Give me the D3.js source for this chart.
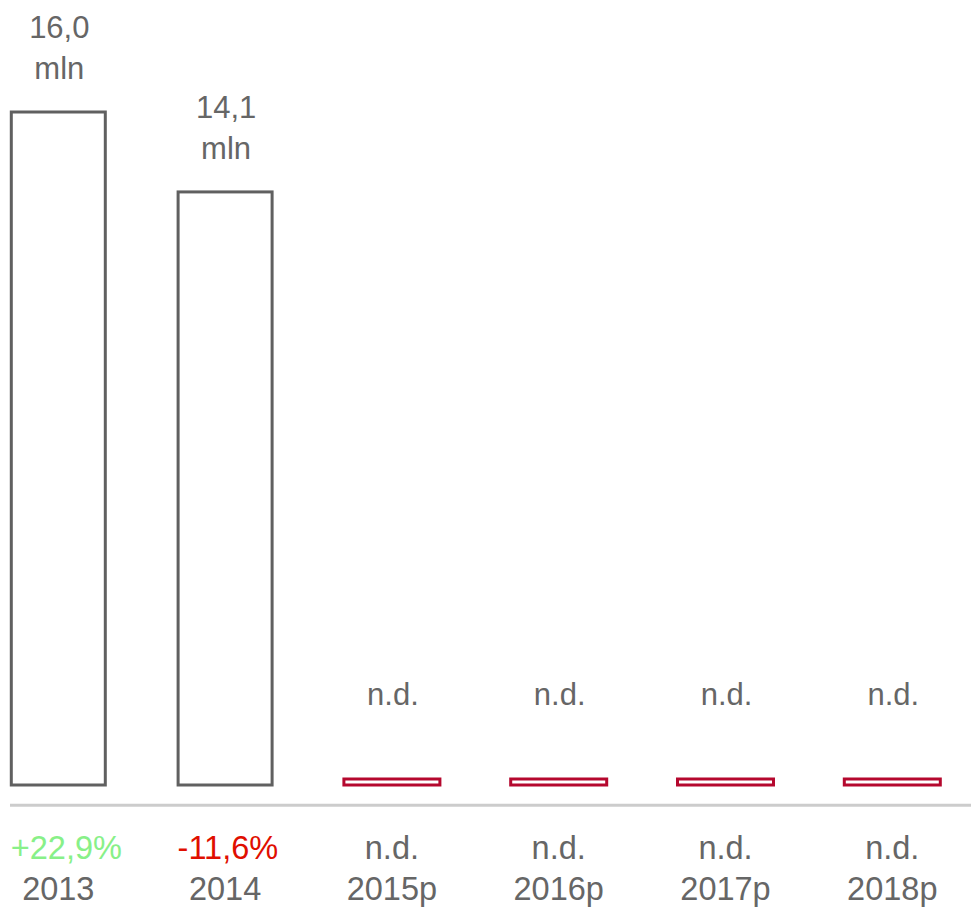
<!DOCTYPE html>
<html>
<head>
<meta charset="utf-8">
<script src="https://cdn.jsdelivr.net/npm/d3@7"></script>
<style>
  html, body { margin: 0; padding: 0; background: #fff; }
  svg { display: block; }
  text { font-family: "Liberation Sans", Arial, Helvetica, sans-serif; }
</style>
</head>
<body>
<div id="chart"></div>
<script>
// ---- data ----
const categories   = ["2013", "2014", "2015p", "2016p", "2017p", "2018p"];
const values       = [16.0, 14.1, null, null, null, null];
const valueLabels  = ["16,0", "14,1", "n.d.", "n.d.", "n.d.", "n.d."];
const unitLabels   = ["mln", "mln", "", "", "", ""];
const changeLabels = ["+22,9%", "-11,6%", "n.d.", "n.d.", "n.d.", "n.d."];
const changeSigns  = [1, -1, 0, 0, 0, 0];

// ---- layout ----
const W = 971, H = 909;
const svg = d3.select("#chart").append("svg").attr("width", W).attr("height", H);

const x = d3.scalePoint().domain(categories).range([58.3, 892.3]);
const y = d3.scaleLinear().domain([0, 16]).range([785, 112]);

const greyText = "#666666";
const barStroke = "#606060";
const ndStroke = "#b5082e";
const strokeW = 3;
const barW = 94, ndW = 96, ndH = 6;

const rows = categories.map((c, i) => ({
  cat: c, v: values[i], vl: valueLabels[i], ul: unitLabels[i],
  ch: changeLabels[i], sign: changeSigns[i]
}));

// bars
rows.forEach(d => {
  if (d.v != null) {
    svg.append("rect")
      .attr("x", x(d.cat) - barW / 2)
      .attr("y", y(d.v))
      .attr("width", barW)
      .attr("height", y(0) - y(d.v))
      .attr("fill", "#fff")
      .attr("stroke", barStroke)
      .attr("stroke-width", strokeW);
  } else {
    svg.append("rect")
      .attr("x", x(d.cat) - ndW / 2)
      .attr("y", y(0) - ndH)
      .attr("width", ndW)
      .attr("height", ndH)
      .attr("fill", "#fff")
      .attr("stroke", ndStroke)
      .attr("stroke-width", strokeW);
  }
});

// value labels above
const lineH = 41;
rows.forEach(d => {
  const top = (d.v != null ? y(d.v) : y(0) - ndH) - strokeW / 2;
  const base2 = top - 31.5;
  const base1 = base2 - lineH;
  svg.append("text")
    .attr("x", x(d.cat) + 1).attr("y", base1)
    .attr("text-anchor", "middle")
    .attr("font-size", 31).attr("fill", greyText)
    .text(d.vl);
  if (d.ul) {
    svg.append("text")
      .attr("x", x(d.cat) + 1).attr("y", base2)
      .attr("text-anchor", "middle")
      .attr("font-size", 31).attr("fill", greyText)
      .text(d.ul);
  }
});

// baseline
svg.append("line")
  .attr("x1", 10).attr("x2", W)
  .attr("y1", 805.3).attr("y2", 805.3)
  .attr("stroke", "#cccccc").attr("stroke-width", 3);

// change labels
const changeColor = s => s > 0 ? "#88f088" : (s < 0 ? "#e00e00" : greyText);
rows.forEach(d => {
  const numeric = d.sign !== 0;
  svg.append("text")
    .attr("x", numeric ? x(d.cat) - barW / 2 - 0.5 : x(d.cat))
    .attr("y", 858.5)
    .attr("text-anchor", numeric ? "start" : "middle")
    .attr("font-size", 32.5)
    .attr("fill", changeColor(d.sign))
    .text(d.ch);
});

// year labels
svg.selectAll("text.year").data(rows).enter().append("text")
  .attr("class", "year")
  .attr("x", d => x(d.cat))
  .attr("y", 900)
  .attr("text-anchor", "middle")
  .attr("font-size", 32.5)
  .attr("fill", greyText)
  .text(d => d.cat);
</script>
</body>
</html>
